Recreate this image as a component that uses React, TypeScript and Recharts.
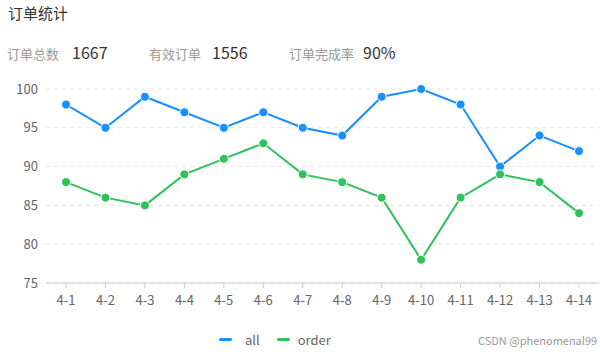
import React from "react";
import { LineChart, Line, XAxis, YAxis, CartesianGrid } from "recharts";

const categories = ["4-1", "4-2", "4-3", "4-4", "4-5", "4-6", "4-7", "4-8", "4-9", "4-10", "4-11", "4-12", "4-13", "4-14"];
const allValues = [98, 95, 99, 97, 95, 97, 95, 94, 99, 100, 98, 90, 94, 92];
const orderValues = [88, 86, 85, 89, 91, 93, 89, 88, 86, 78, 86, 89, 88, 84];
const yTicks = [75, 80, 85, 90, 95, 100];
const stats = [
  { label: "订单总数", value: "1667" },
  { label: "有效订单", value: "1556" },
  { label: "订单完成率", value: "90%" },
];

const data = categories.map((c, i) => ({ name: c, all: allValues[i], order: orderValues[i] }));

const BLUE = "#1890ff";
const GREEN = "#2fc25b";
const FONT = '"Noto Sans CJK SC", "Noto Sans", sans-serif';

export default function App() {
  return (
    <div style={{ position: "fixed", left: 0, top: 0, width: 600, height: 352, background: "#fff", fontFamily: FONT, overflow: "hidden" }}>
      <div style={{ position: "absolute", left: 8, top: 2, fontSize: 15, color: "#333" }}>订单统计</div>
      {stats.map((s, i) => (
        <div key={s.label} style={{ position: "absolute", left: [7, 149, 289][i], top: 40, display: "flex", alignItems: "baseline", whiteSpace: "nowrap" }}>
          <span style={{ fontSize: 13, color: "#999" }}>{s.label}</span>
          <span style={{ fontSize: 16, color: "#333", marginLeft: [13, 11, 9][i] }}>{s.value}</span>
        </div>
      ))}
      <div style={{ position: "absolute", left: 0, top: 0 }}>
        <LineChart width={600} height={352} data={data} margin={{ top: 89, right: 1, left: 0, bottom: 39 }}>
          <CartesianGrid vertical={false} stroke="#e6e6e6" strokeDasharray="4 4" />
          <XAxis
            dataKey="name"
            axisLine={{ stroke: "#ccc" }}
            tickLine={{ stroke: "#ccc" }}
            tickSize={5}
            tickMargin={8}
            padding={{ left: 20, right: 20 }}
            tick={{ fill: "#666", fontSize: 13, fontFamily: FONT }}
            interval={0}
            height={30}
          />
          <YAxis
            domain={[75, 100]}
            ticks={yTicks}
            width={46}
            axisLine={false}
            tickLine={false}
            tick={{ fill: "#666", fontSize: 13, fontFamily: FONT }}
          />
          <Line
            type="linear"
            dataKey="all"
            stroke={BLUE}
            strokeWidth={2}
            dot={{ r: 4.5, fill: BLUE, stroke: "#fff", strokeWidth: 1 }}
            isAnimationActive={false}
          />
          <Line
            type="linear"
            dataKey="order"
            stroke={GREEN}
            strokeWidth={2}
            dot={{ r: 4.5, fill: GREEN, stroke: "#fff", strokeWidth: 1 }}
            isAnimationActive={false}
          />
        </LineChart>
      </div>
      <div style={{ position: "absolute", top: 330, left: 219, display: "flex", alignItems: "center", fontSize: 13, color: "#666" }}>
        <span style={{ width: 13, height: 3, background: BLUE, borderRadius: 2, display: "inline-block" }} />
        <span style={{ marginLeft: 13 }}>all</span>
        <span style={{ width: 13, height: 3, background: GREEN, borderRadius: 2, display: "inline-block", marginLeft: 17 }} />
        <span style={{ marginLeft: 8 }}>order</span>
      </div>
      <div style={{ position: "absolute", top: 332, left: 478, fontSize: 11, color: "#999" }}>CSDN @phenomenal99</div>
    </div>
  );
}
